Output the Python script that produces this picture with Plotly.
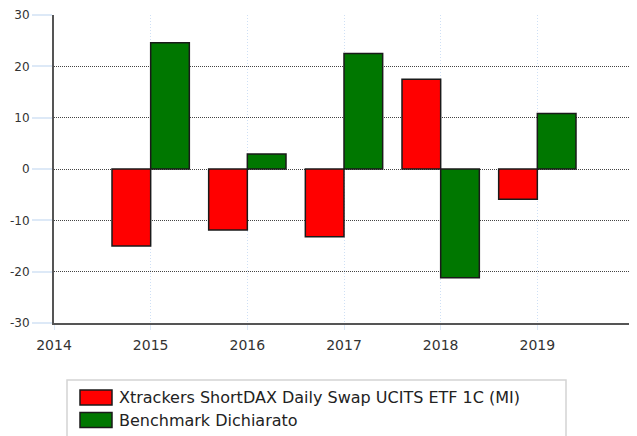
import plotly.graph_objects as go

years = [2015, 2016, 2017, 2018, 2019]
fund_values = [-15.0, -11.9, -13.2, 17.5, -5.9]
bench_values = [24.6, 2.9, 22.5, -21.2, 10.8]
fund_name = "Xtrackers ShortDAX Daily Swap UCITS ETF 1C (MI)"
bench_name = "Benchmark Dichiarato"
x_ticks = [2014, 2015, 2016, 2017, 2018, 2019]
y_ticks = [-30, -20, -10, 0, 10, 20, 30]
y_tick_labels = ["-30", "-20", "-10", "0", "10", "20", "30"]

FUND_COLOR = "#ff0000"
BENCH_COLOR = "#007700"
EDGE = "#1a1a1a"
FONT = "DejaVu Sans"

fig = go.Figure()
fig.add_trace(go.Bar(x=years, y=fund_values, name=fund_name, showlegend=False,
                     marker=dict(color=FUND_COLOR, line=dict(color=EDGE, width=1.5))))
fig.add_trace(go.Bar(x=years, y=bench_values, name=bench_name, showlegend=False,
                     marker=dict(color=BENCH_COLOR, line=dict(color=EDGE, width=1.5))))

# page body adds an 8px offset; figure is sized so that it ends at the window edge
OFF = 8
W, H = 637 - OFF, 436 - OFF
L, T = 54 - OFF, 15 - OFF
R = W - (634 - OFF)
B = H - (323 - OFF)
pw, ph = W - L - R, H - T - B

def px_x(px):
    return (px - OFF - L) / pw

def px_y(py):
    return (H - B - (py - OFF)) / ph

fig.update_layout(
    width=W, height=H,
    margin=dict(l=L, r=R, t=T, b=B, autoexpand=False),
    paper_bgcolor="white", plot_bgcolor="white",
    barmode="group", bargap=0.2, bargroupgap=0,
    font=dict(family=FONT, color="#333333"),
    xaxis=dict(range=[2014, 2020], tickvals=x_ticks, ticktext=[str(v) for v in x_ticks],
               showgrid=True, gridcolor="#cfe0f5", griddash="1px,2px", gridwidth=1,
               showline=True, linecolor="#555555", linewidth=2,
               ticks="outside", ticklen=5, tickcolor="#dde9f7",
               ticklabelstandoff=3,
               tickfont=dict(size=14, color="#333333"), zeroline=False),
    yaxis=dict(range=[-30, 30], tickvals=y_ticks, ticktext=y_tick_labels,
               showgrid=True, gridcolor="#444444", griddash="1px,1px", gridwidth=1,
               showline=True, linecolor="#555555", linewidth=2,
               ticks="outside", ticklen=20, tickcolor="#dde9f7", tickwidth=2,
               tickfont=dict(size=12, color="#333333"), zeroline=False),
    showlegend=False,
)

# legend box
fig.add_shape(type="rect", xref="paper", yref="paper",
              x0=px_x(67), x1=px_x(566), y0=px_y(445), y1=px_y(380),
              line=dict(color="#d4d4d4", width=1.5), fillcolor="white", layer="below")

legend_rows = [(fund_name, FUND_COLOR, 390), (bench_name, BENCH_COLOR, 412.5)]
for name, color, top in legend_rows:
    fig.add_shape(type="rect", xref="paper", yref="paper",
                  x0=px_x(80), x1=px_x(112), y0=px_y(top + 15), y1=px_y(top),
                  line=dict(color=EDGE, width=1.5), fillcolor=color)
    fig.add_annotation(xref="paper", yref="paper", x=px_x(117), y=px_y(top + 7.5),
                       xanchor="left", yanchor="middle", showarrow=False,
                       text=name, font=dict(family=FONT, size=16, color="#222222"))

fig.write_html("out.html")
